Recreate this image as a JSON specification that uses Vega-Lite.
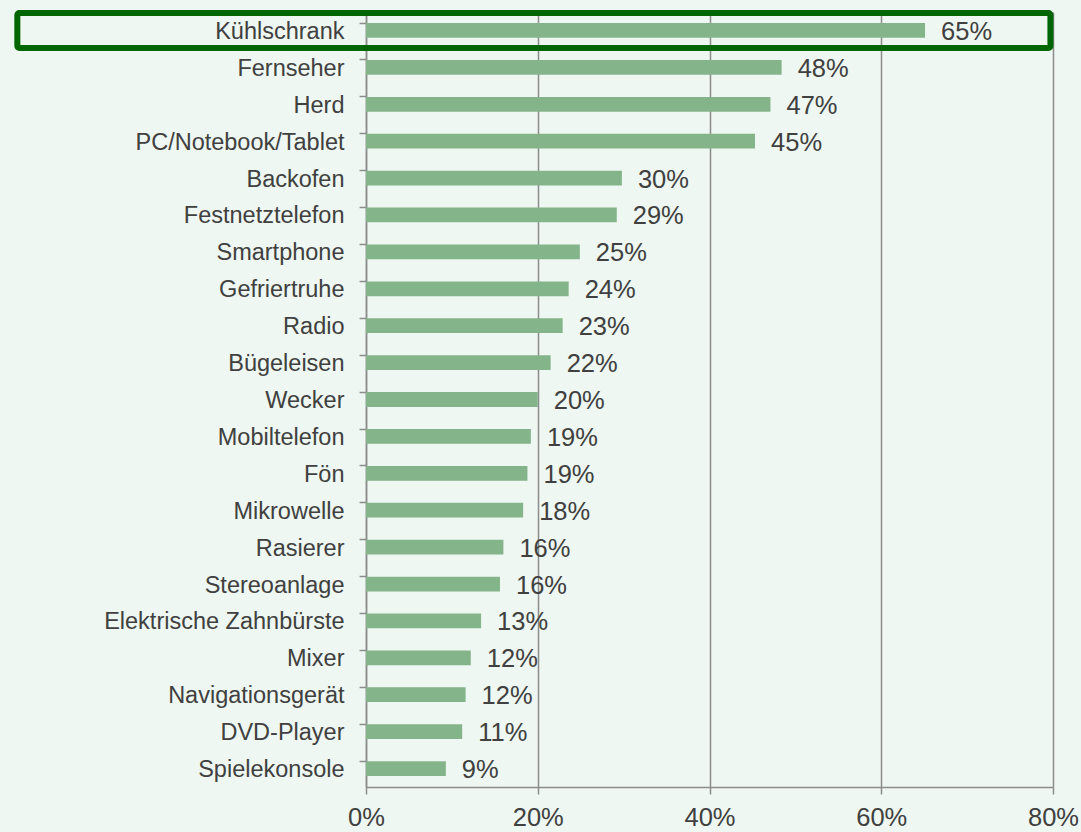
{
  "$schema": "https://vega.github.io/schema/vega-lite/v6.json",
  "width": 687,
  "height": 775,
  "autosize": {"type": "none"},
  "padding": {"left": 366, "top": 12, "right": 28, "bottom": 45},
  "background": "#EEF7F1",
  "config": {
    "view": {"stroke": null},
    "font": "Liberation Sans",
    "text": {"font": "Liberation Sans"}
  },
  "datasets": {
    "bars": [
      {"item": "Kühlschrank", "share": 0.651},
      {"item": "Fernseher", "share": 0.484},
      {"item": "Herd", "share": 0.471},
      {"item": "PC/Notebook/Tablet", "share": 0.453},
      {"item": "Backofen", "share": 0.298},
      {"item": "Festnetztelefon", "share": 0.292},
      {"item": "Smartphone", "share": 0.249},
      {"item": "Gefriertruhe", "share": 0.236},
      {"item": "Radio", "share": 0.229},
      {"item": "Bügeleisen", "share": 0.215},
      {"item": "Wecker", "share": 0.2},
      {"item": "Mobiltelefon", "share": 0.192},
      {"item": "Fön", "share": 0.188},
      {"item": "Mikrowelle", "share": 0.183},
      {"item": "Rasierer", "share": 0.16},
      {"item": "Stereoanlage", "share": 0.156},
      {"item": "Elektrische Zahnbürste", "share": 0.134},
      {"item": "Mixer", "share": 0.122},
      {"item": "Navigationsgerät", "share": 0.116},
      {"item": "DVD-Player", "share": 0.112},
      {"item": "Spielekonsole", "share": 0.093}
    ],
    "box": [
      {"item": "Kühlschrank", "from": -0.406, "to": 0.797}
    ]
  },
  "layer": [
    {
      "data": {"name": "bars"},
      "mark": {"type": "bar", "color": "#84B58A"},
      "encoding": {
        "y": {
          "field": "item", "type": "nominal", "sort": null, "title": null,
          "scale": {"paddingInner": 0.6, "paddingOuter": 0.3},
          "axis": {
            "bandPosition": 0,
            "domainColor": "#8C8C8C", "domainWidth": 1.5,
            "tickColor": "#8C8C8C", "tickWidth": 1.5, "tickSize": 7,
            "labelPadding": 15, "labelFontSize": 23.5, "labelColor": "#404040",
            "labelOffset": 1.5,
            "labelFont": "Liberation Sans", "labelLimit": 400
          }
        },
        "x": {
          "field": "share", "type": "quantitative", "title": null,
          "scale": {"domain": [0, 0.8], "nice": false},
          "axis": {
            "values": [0, 0.2, 0.4, 0.6, 0.8], "format": ".0%",
            "domainColor": "#8C8C8C", "domainWidth": 1.5,
            "tickColor": "#8C8C8C", "tickWidth": 1.5, "tickSize": 7,
            "grid": true, "gridColor": "#8C8C8C", "gridWidth": 1.5,
            "labelPadding": 11, "labelFontSize": 25.5, "labelColor": "#404040",
            "labelFont": "Liberation Sans", "labelFlush": false
          }
        }
      }
    },
    {
      "data": {"name": "bars"},
      "mark": {"type": "text", "align": "left", "baseline": "middle", "dx": 16, "dy": 1.5, "fontSize": 25.5, "color": "#404040"},
      "encoding": {
        "y": {"field": "item", "type": "nominal", "sort": null},
        "x": {"field": "share", "type": "quantitative"},
        "text": {"field": "share", "type": "quantitative", "format": ".0%"}
      }
    },
    {
      "data": {"name": "box"},
      "mark": {"type": "bar", "height": 35, "fill": "#EEF7F1", "fillOpacity": 0, "stroke": "#006600", "strokeWidth": 6, "cornerRadius": 2, "clip": false},
      "encoding": {
        "y": {"field": "item", "type": "nominal", "sort": null},
        "x": {"field": "from", "type": "quantitative"},
        "x2": {"field": "to"}
      }
    }
  ]
}
